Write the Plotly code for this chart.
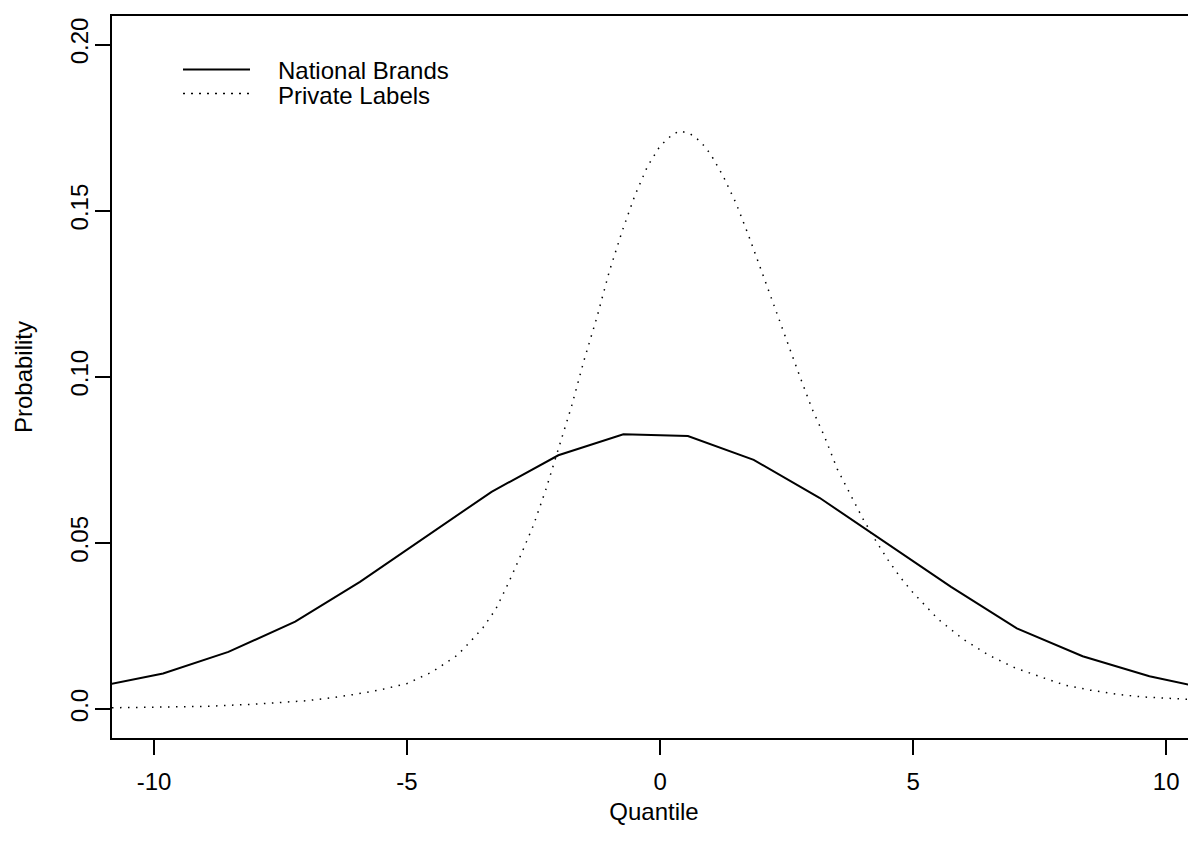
import plotly.graph_objects as go

# National Brands (solid polyline vertices)
nb_x = [-11.11, -9.82, -8.53, -7.21, -5.93, -4.63, -3.33, -2.01, -0.725, 0.55,
        1.85, 3.15, 4.45, 5.75, 7.05, 8.35, 9.67, 10.96]
nb_y = [0.0068, 0.0107, 0.0172, 0.0263, 0.0383, 0.0518, 0.0654, 0.0764, 0.0827, 0.0822,
        0.0750, 0.0636, 0.0503, 0.0368, 0.0243, 0.0159, 0.0099, 0.0057]

# Private Labels (dotted smooth curve, read at regular positions)
pl_x = [-10.83, -10.0, -9.0, -8.0, -7.5, -7.0, -6.5, -6.0, -5.5, -5.0, -4.5, -4.0,
        -3.75, -3.5, -3.25, -3.0, -2.75, -2.5, -2.25, -2.0, -1.75, -1.5, -1.25, -1.0,
        -0.75, -0.5, -0.25, 0.0, 0.25, 0.4, 0.6, 0.8, 1.0, 1.25, 1.5, 1.75, 2.0, 2.25,
        2.5, 2.75, 3.0, 3.25, 3.5, 3.75, 4.0, 4.25, 4.5, 4.75, 5.0, 5.5, 6.0, 6.5, 7.0,
        7.5, 8.0, 8.5, 9.0, 9.5, 10.0, 10.6]
pl_y = [0.0004, 0.0006, 0.0008, 0.0015, 0.0020, 0.0025, 0.0034, 0.0045, 0.0059, 0.0077,
        0.0112, 0.0163, 0.0203, 0.0245, 0.0300, 0.0378, 0.0464, 0.0554, 0.0664, 0.0784,
        0.0911, 0.1051, 0.1178, 0.1319, 0.1438, 0.1545, 0.1633, 0.1695, 0.1730, 0.1740,
        0.1731, 0.1708, 0.1670, 0.1603, 0.1523, 0.1425, 0.1319, 0.1215, 0.1110, 0.1006,
        0.0905, 0.0820, 0.0723, 0.0650, 0.0575, 0.0510, 0.0450, 0.0396, 0.0350, 0.0270,
        0.0209, 0.0162, 0.0125, 0.0098, 0.0072, 0.0057, 0.0045, 0.0037, 0.0032, 0.0028]

x_ticks = [-10, -5, 0, 5, 10]
x_tick_labels = ["-10", "-5", "0", "5", "10"]
y_ticks = [0.0, 0.05, 0.10, 0.15, 0.20]
y_tick_labels = ["0.0", "0.05", "0.10", "0.15", "0.20"]
series_names = ["National Brands", "Private Labels"]

FONT = "Liberation Sans, Arial, sans-serif"
FS = 24
DOT = "1.5px,6.5px"

fig = go.Figure()
fig.add_trace(go.Scatter(x=nb_x, y=nb_y, mode="lines", name=series_names[0],
                         line=dict(color="black", width=2), showlegend=False))
fig.add_trace(go.Scatter(x=pl_x, y=pl_y, mode="lines", name=series_names[1],
                         line=dict(color="black", width=1.5, dash=DOT),
                         showlegend=False))

# Page body has an 8px margin; size the figure so the plot box lands where intended
W, H = 1188, 840
L, R, T, B = 104, 0, 7.5, 110
PAGE_LEFT, PAGE_BOTTOM = 112, 738
pw, ph = W - L - R, H - T - B


def px(xp):
    return (xp - PAGE_LEFT) / pw


def py(yp):
    return (PAGE_BOTTOM - yp) / ph


# Manual legend (R-style) in paper coordinates
fig.add_shape(type="line", xref="paper", yref="paper", x0=px(183), x1=px(250),
              y0=py(69), y1=py(69), line=dict(color="black", width=2))
fig.add_shape(type="line", xref="paper", yref="paper", x0=px(183), x1=px(250),
              y0=py(93), y1=py(93), line=dict(color="black", width=1.5, dash="2px,6px"))
for name, yp in zip(series_names, [70, 95]):
    fig.add_annotation(text=name, xref="paper", yref="paper", x=px(276), y=py(yp),
                       xanchor="left", yanchor="middle", showarrow=False,
                       font=dict(family=FONT, size=FS, color="black"))

fig.update_layout(
    width=W, height=H,
    margin=dict(l=L, r=R, t=T, b=B),
    paper_bgcolor="white", plot_bgcolor="white",
    font=dict(family=FONT, size=FS, color="black"),
    showlegend=False,
)
fig.update_xaxes(
    range=[-10.83, 10.59], tickvals=x_ticks, ticktext=x_tick_labels,
    showgrid=False, zeroline=False, showline=True, linecolor="black", linewidth=2,
    mirror=True, ticks="outside", ticklen=15, tickwidth=2, tickcolor="black",
    ticklabelstandoff=6, tickfont=dict(size=FS),
    title=dict(text="Quantile", standoff=9, font=dict(size=FS)),
)
fig.update_yaxes(
    range=[-0.0087, 0.2086], tickvals=y_ticks, ticktext=y_tick_labels,
    showgrid=False, zeroline=False, showline=True, linecolor="black", linewidth=2,
    mirror=False, ticks="outside", ticklen=15, tickwidth=2, tickcolor="black",
    tickangle=-90, ticklabelstandoff=-3, tickfont=dict(size=FS),
    title=dict(text="Probability", standoff=27, font=dict(size=FS)),
)

fig.write_html("out.html")
